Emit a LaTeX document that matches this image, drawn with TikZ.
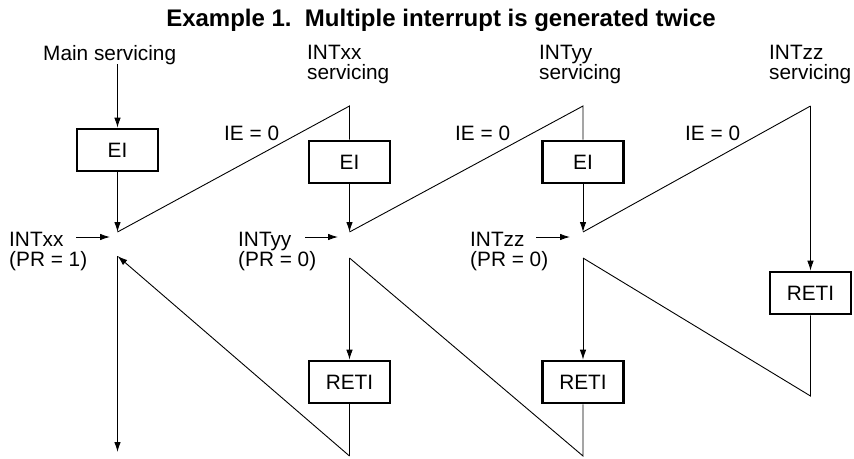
\documentclass[tikz,border=0pt]{standalone}
\usepackage{fontspec}
\setmainfont{Liberation Sans}
\usetikzlibrary{arrows.meta}
\begin{document}
\begin{tikzpicture}[x=1pt,y=-1pt,
  txt/.style={font=\fontsize{20.8}{20}\selectfont, inner sep=0pt, align=left},
  box/.style={draw, line width=2.6pt, minimum width=81pt, minimum height=42pt, inner sep=0pt, font=\fontsize{20.8}{20}\selectfont},
  ln/.style={line width=0.9pt},
  arr/.style={ln, -{Latex[length=10pt,width=6.5pt]}}]
\useasboundingbox (0,0) rectangle (854,458);
% title
\node[anchor=base, inner sep=0pt, font=\fontsize{24}{26}\selectfont\bfseries] (title) at (441,26) {Example 1.\ \ Multiple interrupt is generated twice};
% column labels
\node[txt, anchor=base west] (main) at (43,60) {Main servicing};
\node[txt, anchor=north west] (sxx) at (307,45) {INTxx\\servicing};
\node[txt, anchor=north west] (syy) at (539,45) {INTyy\\servicing};
\node[txt, anchor=north west] (szz) at (769,45) {INTzz\\servicing};
% IE labels
\node[txt, anchor=base west] (ie1) at (224,140) {IE = 0};
\node[txt, anchor=base west] (ie2) at (455,140) {IE = 0};
\node[txt, anchor=base west] (ie3) at (685,140) {IE = 0};
% interrupt request labels
\node[txt, anchor=north west] (ixx) at (9,231.5) {INTxx\\(PR = 1)};
\node[txt, anchor=north west] (iyy) at (238,231.5) {INTyy\\(PR = 0)};
\node[txt, anchor=north west] (izz) at (470,231.5) {INTzz\\(PR = 0)};
% boxes
\node[box] (ei1) at (117.5,150) {EI};
\node[box] (ei2) at (349.5,162) {EI};
\node[box] (ei3) at (583,162) {EI};
\node[box] (retz) at (810.5,293) {RETI};
\node[box] (ret1) at (349.5,382) {RETI};
\node[box] (ret2) at (583,382) {RETI};
% junction points
\coordinate (J0) at (117.5,232);
\coordinate (K0) at (117.5,256);
\coordinate (J1) at (349.5,232);
\coordinate (K1) at (349.5,258);
\coordinate (J2) at (583,232);
\coordinate (K2) at (583,258);
\coordinate (T1) at (349.5,106);
\coordinate (T2) at (583,106);
\coordinate (T3) at (810.5,106);
\coordinate (B1) at (349.5,456);
\coordinate (B2) at (583,456);
\coordinate (B3) at (810.5,396);
\coordinate (E0) at (117.5,452);
\coordinate (m0) at (117.5,64);
% interrupt arrows
\coordinate (a0s) at (76,237);  \coordinate (a0e) at (110,237);
\coordinate (a1s) at (305,237); \coordinate (a1e) at (338,237);
\coordinate (a2s) at (536,237); \coordinate (a2e) at (570,237);
\draw[arr] (a0s) -- (a0e);
\draw[arr] (a1s) -- (a1e);
\draw[arr] (a2s) -- (a2e);
% flow
\draw[arr] (m0) -- (ei1.north);
\draw[arr] (ei1.south) -- (J0);
\draw[ln] (J0) -- (T1) -- (ei2.north);
\draw[arr] (ei2.south) -- (J1);
\draw[ln] (J1) -- (T2) -- (ei3.north);
\draw[arr] (ei3.south) -- (J2);
\draw[ln] (J2) -- (T3);
\draw[arr] (T3) -- (retz.north);
\draw[ln] (retz.south) -- (B3) -- (K2);
\draw[arr] (K2) -- (ret2.north);
\draw[ln] (ret2.south) -- (B2) -- (K1);
\draw[arr] (K1) -- (ret1.north);
\draw[ln] (ret1.south) -- (B1);
\draw[arr] (B1) -- (K0);
\draw[arr] (K0) -- (E0);
\end{tikzpicture}
\end{document}
